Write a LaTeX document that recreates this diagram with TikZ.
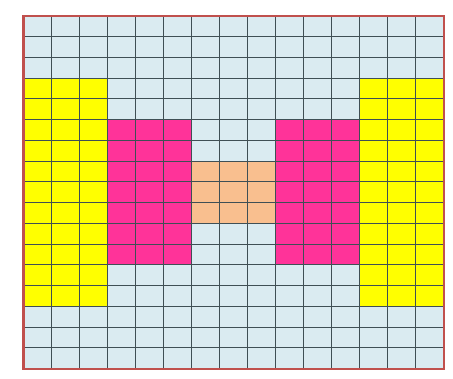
\documentclass[tikz,border=0pt]{standalone}
\definecolor{cellblue}{HTML}{DAEBF1}
\definecolor{cellyellow}{HTML}{FFFF00}
\definecolor{cellpink}{HTML}{FF3399}
\definecolor{cellorange}{HTML}{F9BF8F}
\definecolor{gridline}{HTML}{3F4F55}
\definecolor{frame}{HTML}{C0504D}
\tikzset{
  gridstyle/.style={draw=gridline, line width=0.9pt},
  framestyle/.style={draw=frame, line width=2.2pt},
}
\begin{document}
\begin{tikzpicture}[x=1pt,y=-1pt]
\useasboundingbox (0,0) rectangle (453,378);
\fill[white] (0,0) rectangle (453,378);
\begin{scope}[xshift=23.5pt,yshift=-15.7pt,x=28.01pt,y=-20.76pt]
  \fill[cellblue] (0,0) rectangle (15,17);
  \fill[cellyellow] (0,3) rectangle (3,14);
  \fill[cellyellow] (12,3) rectangle (15,14);
  \fill[cellpink] (3,5) rectangle (6,12);
  \fill[cellpink] (9,5) rectangle (12,12);
  \fill[cellorange] (6,7) rectangle (9,10);
  \foreach \i in {1,...,14} \draw[gridstyle] (\i,0) -- (\i,17);
  \foreach \j in {1,...,16} \draw[gridstyle] (0,\j) -- (15,\j);
  \draw[framestyle] (0,0) rectangle (15,17);
\end{scope}
\end{tikzpicture}
\end{document}
